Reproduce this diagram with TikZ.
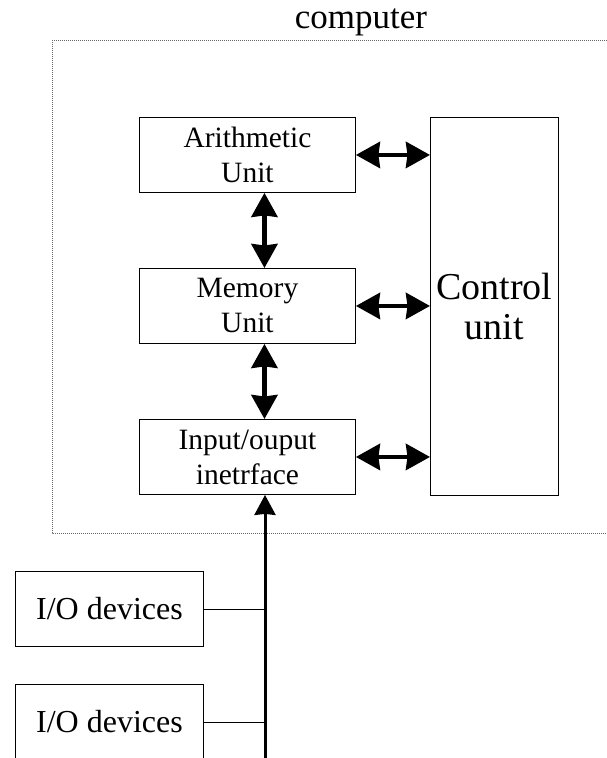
\documentclass[tikz,border=0pt]{standalone}
\usepackage{fontspec}
\setmainfont{Liberation Serif}
\usetikzlibrary{arrows.meta,calc}
\tikzset{
  box/.style={draw=black, line width=0.9pt, minimum width=216pt, minimum height=75pt, inner sep=0pt, align=center, font=\fontsize{29.5}{35}\selectfont, anchor=north west},
  iobox/.style={draw=black, line width=0.9pt, minimum width=188pt, minimum height=75pt, inner sep=0pt, align=center, font=\fontsize{32}{36}\selectfont, anchor=north west},
  bighead/.tip={Stealth[length=24pt,width=26pt,inset=1.5pt]},
  biarrow/.style={line width=4.5pt, bighead-bighead},
  tap/.style={line width=0.9pt},
}
\begin{document}
\begin{tikzpicture}[x=1pt,y=-1pt]
\useasboundingbox (0,0) rectangle (607,758);
\clip (0,0) rectangle (607,758);
% dotted computer border
\draw[gray!80!black, line width=1pt, dash pattern=on 1pt off 1pt] (52,40) -- (607,40);
\draw[gray!80!black, line width=1pt, dash pattern=on 1pt off 1pt] (52,40) -- (52,533) -- (607,533);
\node[font=\fontsize{35}{38}\selectfont, anchor=base, inner sep=0pt] (title) at (361,28) {computer};
% boxes
\node[box] (arith) at (139,117) {Arithmetic\\Unit};
\node[box] (mem) at (139,268) {Memory\\Unit};
\node[box] (io) at (139,419) {Input/ouput\\inetrface};
\node[draw=black, line width=0.9pt, minimum width=128pt, minimum height=378pt, inner sep=0pt, anchor=north west, align=center, font=\fontsize{38}{40}\selectfont] (ctrl) at (430,117) {Control\\unit};
% arrows to control
\draw[biarrow] (arith.east) -- (arith.east -| ctrl.west);
\draw[biarrow] (mem.east) -- (mem.east -| ctrl.west);
\draw[biarrow] (io.east) -- (io.east -| ctrl.west);
% vertical arrows
\coordinate (c1) at ($(arith.south)+(17,0)$);
\coordinate (c2) at ($(mem.north)+(17,0)$);
\draw[biarrow] (c1) -- (c2);
\coordinate (c3) at ($(mem.south)+(17,0)$);
\coordinate (c4) at ($(io.north)+(17,0)$);
\draw[biarrow] (c3) -- (c4);
% bus
\coordinate (busbot) at (265,770);
\coordinate (bustop) at (io.south -| busbot);
\draw[line width=3pt, -{Stealth[length=20pt,width=21pt,inset=1pt]}] (busbot) -- (bustop);
% io devices
\node[iobox] (dev1) at (15,571) {I/O devices};
\node[iobox] (dev2) at (15,684) {I/O devices};
\draw[tap] (dev1.east) -- (dev1.east -| busbot);
\draw[tap] ($(dev2.north east)+(0,38)$) coordinate (d2e) -- (d2e -| busbot);
\end{tikzpicture}
\end{document}
